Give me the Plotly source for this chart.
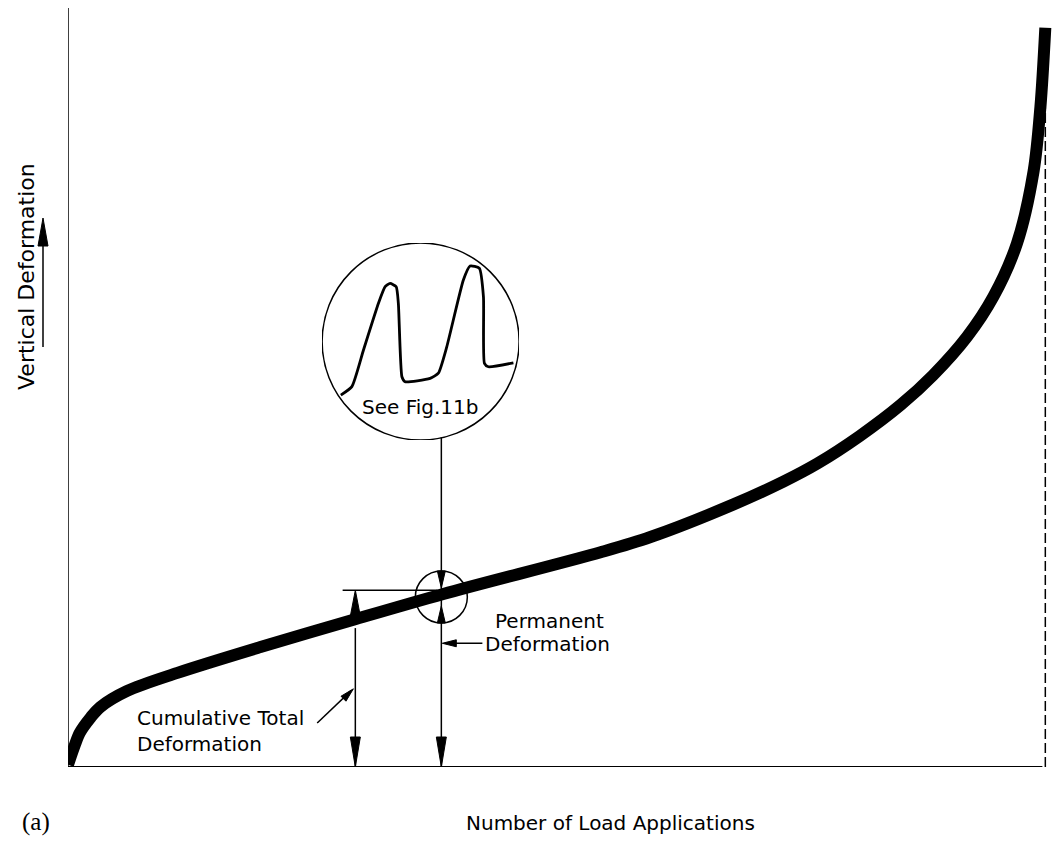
import math
import plotly.graph_objects as go

# main curve: load applications (% of N_f) vs cumulative vertical deformation (arb. units)
N_PCT = [0, 0.7, 1.2, 2.3, 3.3, 6.0, 11.2, 19.7, 29.2, 38.4, 54.5, 59.6, 68.1, 73.2, 76.7, 81.0, 85.2, 88.5, 92.0, 94.7, 97.1, 98.8, 99.5, 100]
DEFORM = [0.3, 2.9, 4.5, 6.5, 7.9, 10.0, 12.4, 15.8, 19.4, 22.8, 28.3, 30.3, 34.6, 37.6, 40.0, 43.6, 47.7, 51.6, 56.7, 62.0, 69.0, 78.5, 87.0, 97.4]

# inset trace (two load pulses), normalised to the inset box
INSET_T = [0.095, 0.151, 0.210, 0.286, 0.320, 0.345, 0.376, 0.387, 0.405, 0.421, 0.548, 0.590, 0.633, 0.717, 0.751, 0.798, 0.819, 0.824, 0.844, 0.971]
INSET_D = [0.228, 0.271, 0.457, 0.694, 0.778, 0.795, 0.778, 0.694, 0.321, 0.296, 0.313, 0.339, 0.474, 0.812, 0.883, 0.872, 0.727, 0.389, 0.372, 0.392]

N_CUM = 29.4        # where cumulative total deformation is marked
CUM_LEVEL = 23.3    # level of the horizontal reference line
N_PERM = 38.2       # where permanent deformation / inset is taken
PERM_LEVEL = 22.4
POINTER_TOP = 43.4
NF_DASH_TOP = 91.8

FONT = "DejaVu Sans"
X_MAX = 101.4
# page body adds 8px offset, so figure is 8px smaller
W, H = 1055, 839
M = dict(l=60, r=4, t=0, b=80)
PW = W - M["l"] - M["r"]
PH = H - M["t"] - M["b"]


def head(x, y, ang, xref="x", yref="y", length=26, width=10):
    dx, dy = math.cos(math.radians(ang)), math.sin(math.radians(ang))
    bx, by = -length * dx, -length * dy
    nx, ny = -dy, dx
    p1 = (bx + width / 2 * nx, by + width / 2 * ny)
    p2 = (bx - width / 2 * nx, by - width / 2 * ny)
    path = f"M0,0 L{p1[0]:.2f},{p1[1]:.2f} L{p2[0]:.2f},{p2[1]:.2f} Z"
    return dict(type="path", xref=xref, yref=yref, xsizemode="pixel", ysizemode="pixel",
                xanchor=x, yanchor=y, path=path, fillcolor="black",
                line=dict(color="black", width=1), layer="above")


def seg(x0, y0, x1, y1, xref="x", yref="y", width=1.5, dash="solid"):
    return dict(type="line", xref=xref, yref=yref, x0=x0, y0=y0, x1=x1, y1=y1,
                line=dict(color="black", width=width, dash=dash), layer="above")


fig = go.Figure()
fig.add_trace(go.Scatter(x=N_PCT, y=DEFORM, mode="lines",
                         line=dict(color="black", width=12, shape="spline", smoothing=0.9),
                         hoverinfo="skip"))

# inset axes placed over the big circle
cx, cy, r = 36.08, 56.06, 98.5
px_c = cx / X_MAX
py_c = cy / 100
dx_dom = r / PW
dy_dom = r / PH
fig.add_trace(go.Scatter(x=INSET_T, y=INSET_D, xaxis="x2", yaxis="y2", mode="lines",
                         line=dict(color="black", width=2.8, shape="spline", smoothing=0.5),
                         hoverinfo="skip"))

shapes = [
    seg(0, 0, 0, 100),
    seg(0, 0, 99.7, 0, width=2),
    seg(100, 0, 100, NF_DASH_TOP, dash="10px,4px"),
    dict(type="circle", xref="x2", yref="y2", x0=0, y0=0, x1=1, y1=1,
         line=dict(color="black", width=1.5)),
    dict(type="circle", xref="x", yref="y", xsizemode="pixel", ysizemode="pixel",
         xanchor=N_PERM, yanchor=PERM_LEVEL, x0=-26, x1=26, y0=-26, y1=26,
         line=dict(color="black", width=1.5), layer="above"),
    # permanent deformation pointer
    seg(N_PERM, POINTER_TOP, N_PERM, 0),
    head(N_PERM, 23.6, -90, length=17, width=8),
    head(N_PERM, 21.2, 90, length=17, width=8),
    head(N_PERM, 0, -90, length=30, width=10),
    # cumulative total deformation
    seg(28.1, CUM_LEVEL, 37.8, CUM_LEVEL),
    head(N_CUM, CUM_LEVEL, 90, length=26, width=10),
    seg(N_CUM, 18.3, N_CUM, 0),
    head(N_CUM, 0, -90, length=30, width=10),
    # leaders
    seg(25.5, 5.8, 29.0, 10.1, width=1.5),
    head(29.2, 10.3, 45, length=14, width=7),
    seg(42.4, 16.3, 38.6, 16.3, width=1.5),
    head(38.3, 16.3, 180, length=14, width=7),
    # y-axis arrow
    seg(-25 / PW, 0.5534, -25 / PW, 0.70, xref="paper", yref="paper", width=1.5),
    head(-25 / PW, 0.7233, 90, xref="paper", yref="paper", length=28, width=10),
]

ann = [
    dict(x=0.497, y=0.168, xref="x2", yref="y2", text="See Fig.11b", showarrow=False,
         xanchor="center", yanchor="middle",
         font=dict(family=FONT, size=20, color="black")),
    dict(x=6.9, y=4.7, xref="x", yref="y", text="Cumulative Total<br>Deformation",
         showarrow=False, xanchor="left", yanchor="middle", align="left",
         font=dict(family=FONT, size=20, color="black")),
    dict(x=43.5, y=19.2, xref="x", yref="y", text="Permanent", showarrow=False,
         xanchor="left", yanchor="middle", font=dict(family=FONT, size=20, color="black")),
    dict(x=42.5, y=16.2, xref="x", yref="y", text="Deformation", showarrow=False,
         xanchor="left", yanchor="middle", font=dict(family=FONT, size=20, color="black")),
    dict(x=99.8, y=-3.4, xref="x", yref="y", text="N<sub>f</sub>", showarrow=False,
         xanchor="center", yanchor="middle", font=dict(family=FONT, size=19, color="black")),
    dict(x=(610 - 68) / PW, y=-56 / PH, xref="paper", yref="paper",
         text="Number of Load Applications", showarrow=False,
         xanchor="center", yanchor="middle",
         font=dict(family=FONT, size=20, color="black")),
    dict(x=-32 / PW, y=-55 / PH, xref="paper", yref="paper", text="(a)", showarrow=False,
         xanchor="center", yanchor="middle",
         font=dict(family="Liberation Serif", size=25, color="black")),
    dict(x=-42 / PW, y=(767 - 277) / PH, xref="paper", yref="paper",
         text="Vertical Deformation", showarrow=False, textangle=-90,
         xanchor="center", yanchor="middle",
         font=dict(family=FONT, size=22, color="black")),
]

hidden = dict(showgrid=False, zeroline=False, showticklabels=False, ticks="", showline=False)
fig.update_layout(
    width=W, height=H,
    margin=M,
    showlegend=False,
    plot_bgcolor="white",
    paper_bgcolor="white",
    xaxis=dict(range=[0, X_MAX], **hidden),
    yaxis=dict(range=[0, 100], **hidden),
    xaxis2=dict(domain=[px_c - dx_dom, px_c + dx_dom], range=[0, 1], anchor="y2", **hidden),
    yaxis2=dict(domain=[py_c - dy_dom, py_c + dy_dom], range=[0, 1], anchor="x2", **hidden),
    shapes=shapes,
    annotations=ann,
)

fig.write_html("out.html")
